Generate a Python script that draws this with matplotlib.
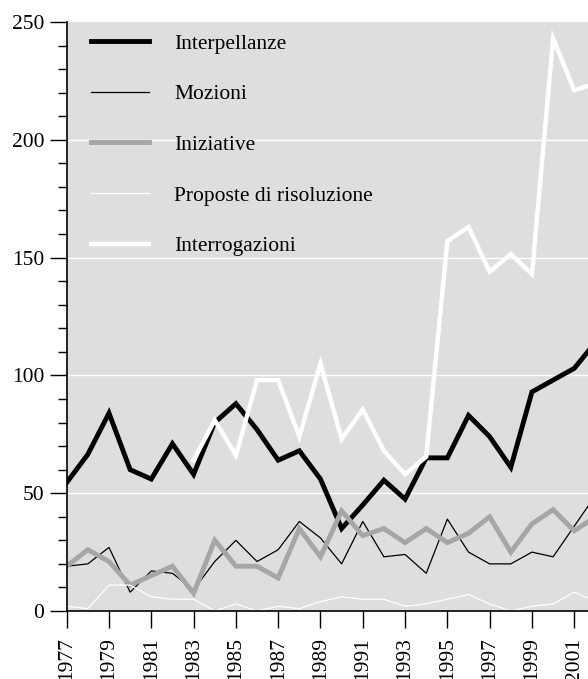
import matplotlib
matplotlib.use("Agg")
import matplotlib.pyplot as plt
import numpy as np

years = list(range(1977, 2003))
interpellanze = [54.5, 66.5, 84, 60, 56, 71, 58, 80, 88, 77, 64, 68, 56, 35, 45, 55.5, 47.5, 65, 65, 83, 74, 61, 93, 98, 103, 114]
mozioni = [19, 20, 27, 8, 17, 16, 9, 21, 30, 21, 26, 38, 31, 20, 38, 23, 24, 16, 39, 25, 20, 20, 25, 23, 36, 49]
iniziative = [19, 26, 21, 11, 15, 19, 7.5, 30, 19, 19, 14, 35, 23, 42.5, 32, 35, 29, 35, 29, 33, 40, 25, 37, 43, 34, 40]
proposte = [2, 1, 11, 11, 6, 5, 5, 0, 3, 0, 2, 1, 4, 6, 5, 5, 2, 3, 5, 7, 3, 0, 2, 3, 8, 4]
interrogazioni_years = list(range(1983, 2003))
interrogazioni = [64, 81, 66, 98, 98, 74, 105, 73, 85.5, 68, 58, 65.5, 157, 163, 144, 151.5, 143, 243, 221, 224]

labels = ["Interpellanze", "Mozioni", "Iniziative", "Proposte di risoluzione", "Interrogazioni"]
xticks = list(range(1977, 2002, 2))
yticks = [0, 50, 100, 150, 200, 250]

plt.rcParams['font.family'] = ['Liberation Serif', 'DejaVu Serif']

fig = plt.figure(figsize=(5.88, 6.79), dpi=100)
ax = fig.add_axes([66.7/588, 1-611/679, 1-66.7/588, (611-22)/679])
ax.set_facecolor('#dedede')

ax.plot(years, interpellanze, color='black', lw=3.5, label=labels[0], solid_joinstyle='miter')
ax.plot(years, mozioni, color='black', lw=0.9, label=labels[1])
ax.plot(years, iniziative, color='#a6a6a6', lw=3.5, label=labels[2], solid_joinstyle='miter')
ax.plot(years, proposte, color='white', lw=0.9, label=labels[3])
ax.plot(interrogazioni_years, interrogazioni, color='white', lw=3.2, label=labels[4], solid_joinstyle='miter')

ax.set_xlim(1977, 2001.65)
ax.set_ylim(0, 250)
ax.set_yticks(yticks)
ax.set_yticks(np.arange(0, 251, 10), minor=True)
ax.set_xticks(xticks)
ax.set_xticklabels([str(y) for y in xticks], rotation=90)
ax.tick_params(axis='both', which='major', direction='out', length=12, width=1.0, labelsize=15.5, pad=4)
ax.tick_params(axis='y', which='minor', direction='out', length=6.5, width=1.0)
ax.tick_params(axis='x', which='major', pad=7)

for y in [50, 100, 150, 200]:
    ax.axhline(y, color='white', lw=1.0, zorder=0.5)

for s in ['top', 'right']:
    ax.spines[s].set_visible(False)
for s in ['left', 'bottom']:
    ax.spines[s].set_linewidth(1.2)

leg = ax.legend(loc='upper left', bbox_to_anchor=(0.031, 0.995), frameon=False, fontsize=15.5,
                handlelength=2.65, handletextpad=1.2, labelspacing=1.42, borderaxespad=0.0, borderpad=0.4)

fig.savefig('out.png', dpi=100)
